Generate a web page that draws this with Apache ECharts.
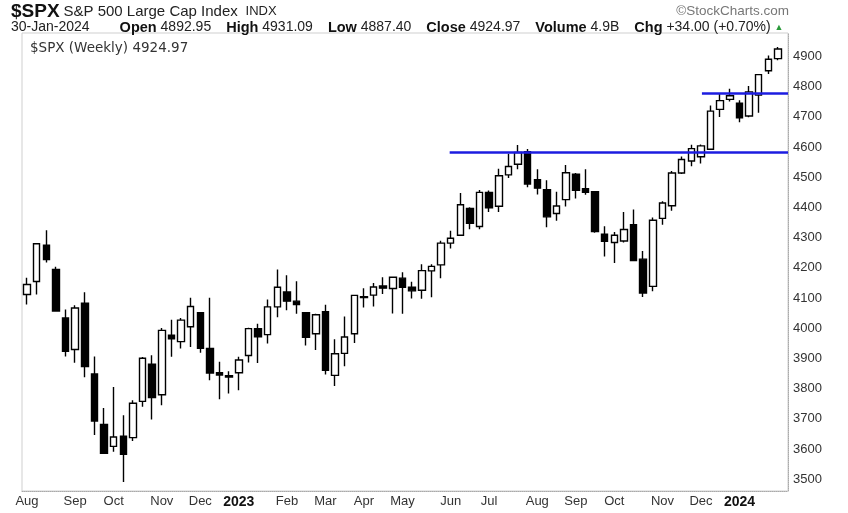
<!DOCTYPE html>
<html><head><meta charset="utf-8">
<script src="https://cdn.jsdelivr.net/npm/echarts@6/dist/echarts.min.js"></script>
<style>html,body{margin:0;padding:0;background:#fff}#c{width:848px;height:513px}</style>
</head><body><div id="c"></div>
<script>
// Weekly bars, $SPX, Aug 2022 - Jan 2024
const weeks = ['2022-08-01','2022-08-08','2022-08-15','2022-08-22','2022-08-29','2022-09-06','2022-09-12','2022-09-19','2022-09-26','2022-10-03','2022-10-10','2022-10-17','2022-10-24','2022-10-31','2022-11-07','2022-11-14','2022-11-21','2022-11-28','2022-12-05','2022-12-12','2022-12-19','2022-12-27','2023-01-03','2023-01-09','2023-01-17','2023-01-23','2023-01-30','2023-02-06','2023-02-13','2023-02-21','2023-02-27','2023-03-06','2023-03-13','2023-03-20','2023-03-27','2023-04-03','2023-04-10','2023-04-17','2023-04-24','2023-05-01','2023-05-08','2023-05-15','2023-05-22','2023-05-30','2023-06-05','2023-06-12','2023-06-20','2023-06-26','2023-07-03','2023-07-10','2023-07-17','2023-07-24','2023-07-31','2023-08-07','2023-08-14','2023-08-21','2023-08-28','2023-09-05','2023-09-11','2023-09-18','2023-09-25','2023-10-02','2023-10-09','2023-10-16','2023-10-23','2023-10-30','2023-11-06','2023-11-13','2023-11-20','2023-11-27','2023-12-04','2023-12-11','2023-12-18','2023-12-26','2024-01-02','2024-01-08','2024-01-16','2024-01-22','2024-01-29'];
const opens  = [4112,4155,4275,4195,4034,3930,4083,3849,3682,3609,3643,3638,3758,3881,3780,3977,3956,4005,4052,3933,3853,3843,3853,3910,3999,3979,4071,4120,4090,4052,3982,4055,3844,3917,3982,4102,4110,4140,4132,4166,4136,4126,4190,4210,4282,4308,4397,4337,4450,4404,4508,4543,4585,4492,4459,4380,4426,4510,4462,4452,4312,4284,4289,4343,4229,4139,4364,4406,4514,4554,4568,4593,4725,4758,4745,4703,4772,4853,4892.95];
const highs  = [4167,4280,4325,4204,4062,4076,4119,3907,3736,3806,3712,3762,3905,3911,4001,4028,4034,4101,4052,4101,3889,3858,3906,4002,4015,4095,4195,4176,4156,4052,4048,4078,3964,4039,4110,4133,4150,4169,4170,4186,4154,4212,4212,4290,4323,4448,4401,4458,4456,4528,4578,4607,4594,4527,4490,4452,4541,4514,4527,4453,4338,4319,4385,4393,4256,4367,4421,4521,4569,4608,4609,4738,4778,4793,4755,4802,4842,4903,4931.09];
const lows   = [4079,4112,4218,4057,3907,3886,3838,3647,3584,3591,3491,3627,3740,3698,3745,3906,3933,3938,3919,3828,3765,3784,3795,3887,3885,3950,4037,4060,4048,3943,3928,3847,3809,3874,3951,4069,4072,4114,4049,4048,4099,4098,4103,4166,4264,4307,4328,4328,4385,4385,4498,4527,4467,4443,4335,4356,4403,4430,4442,4316,4238,4216,4284,4223,4104,4123,4343,4389,4511,4537,4546,4593,4700,4751,4682,4699,4714,4842,4887.40];
const closes = [4145,4280,4228,4057,3924,4067,3873,3693,3586,3640,3583,3752,3901,3771,3993,3965,4027,4072,3934,3852,3845,3839,3895,3999,3972,4071,4136,4090,4079,3970,4045,3861,3916,3971,4109,4105,4137,4133,4169,4136,4124,4191,4205,4282,4298,4409,4348,4450,4399,4505,4536,4582,4478,4464,4369,4405,4515,4457,4450,4320,4288,4308,4327,4224,4117,4358,4415,4514,4559,4595,4604,4719,4754,4770,4697,4783,4840,4891,4924.97];

// Axis tick labels
const yTicks = [3500,3600,3700,3800,3900,4000,4100,4200,4300,4400,4500,4600,4700,4800,4900];
const monthTickWeeks  = ['2022-08-01','2022-09-06','2022-10-03','2022-11-07','2022-12-05','2023-01-03','2023-02-06','2023-03-06','2023-04-03','2023-05-01','2023-06-05','2023-07-03','2023-08-07','2023-09-05','2023-10-02','2023-11-06','2023-12-04','2024-01-02'];
const monthTickLabels = ['Aug','Sep','Oct','Nov','Dec','2023','Feb','Mar','Apr','May','Jun','Jul','Aug','Sep','Oct','Nov','Dec','2024'];

// Hand-drawn resistance lines (level, starting week position)
const resistanceLevels = [4583, 4777];
const resistanceFromWeek = [43.9, 70.1];

const X_MIN = -0.52, X_MAX = 79.04;
const FONT = '"Liberation Sans", Arial, sans-serif';

const tickIdx = monthTickWeeks.map(w => weeks.indexOf(w));
const labelByIdx = {};
tickIdx.forEach((ix, k) => { labelByIdx[ix] = monthTickLabels[k]; });

const chart = echarts.init(document.getElementById('c'), null, {renderer: 'canvas'});
const last = closes.length - 1;

chart.setOption({
  animation: false,
  backgroundColor: '#fff',
  title: [
    {
      text: '{a|$SPX} {b|S&P 500 Large Cap Index}  {c|INDX}',
      left: 11, top: 2, padding: 0,
      textStyle: { fontFamily: FONT, fontSize: 14, fontWeight: 'normal', rich: {
        a: {fontFamily: FONT, fontSize: 19, fontWeight: 'bold', color: '#111'},
        b: {fontFamily: FONT, fontSize: 15, fontWeight: 'normal', color: '#222'},
        c: {fontFamily: FONT, fontSize: 13, fontWeight: 'normal', color: '#222'}
      }}
    },
    {
      text: '©StockCharts.com', right: 59, top: 4, padding: 0,
      textStyle: {fontFamily: FONT, fontSize: 13.5, fontWeight: 'normal', color: '#777'}
    },
    {
      text: '{v|30-Jan-2024}{g|}{b|Open} {v|4892.95}{s|}{b|High} {v|4931.09}{s|}{b|Low} {v|4887.40}{s|}{b|Close} {v|4924.97}{s|}{b|Volume} {v|4.9B}{s|}{b|Chg} {v|+34.00 (+0.70%)} {t|▲}',
      left: 11, top: 20, padding: 0,
      textStyle: { fontFamily: FONT, fontSize: 14, fontWeight: 'normal', rich: {
        v: {fontFamily: FONT, fontSize: 14, fontWeight: 'normal', color: '#222'},
        b: {fontFamily: FONT, fontSize: 14.5, fontWeight: 'bold', color: '#111'},
        t: {fontFamily: FONT, fontSize: 9, fontWeight: 'normal', color: '#2a9a3a'},
        g: {width: 30},
        s: {width: 15}
      }}
    },
    {
      text: '$SPX (Weekly) ' + closes[last].toFixed(2),
      left: 30, top: 41, padding: 0,
      textStyle: {fontFamily: '"DejaVu Sans", sans-serif', fontSize: 13.5, fontWeight: 'normal', color: '#333'}
    }
  ],
  grid: {left: 22, top: 33, width: 766, height: 458, show: true, borderColor: '#cfcfcf', borderWidth: 1},
  xAxis: {
    type: 'value', min: X_MIN, max: X_MAX,
    splitLine: {show: false},
    axisTick: {show: false},
    axisLine: {show: true, onZero: false, lineStyle: {color: '#aaa', type: 'dotted'}},
    axisLabel: {
      customValues: tickIdx,
      margin: 4,
      fontFamily: FONT, fontSize: 13, color: '#333',
      formatter: v => {
        const s = labelByIdx[Math.round(v)] || '';
        return /^\d{4}$/.test(s) ? '{y|' + s + '}' : s;
      },
      rich: {y: {fontFamily: FONT, fontSize: 14, fontWeight: 'bold', color: '#111'}}
    }
  },
  yAxis: {
    type: 'value', position: 'right', min: 3461.3, max: 4977.8, scale: true,
    splitLine: {show: false},
    axisTick: {show: false},
    axisLine: {show: true, onZero: false, lineStyle: {color: '#aaa', type: 'dotted'}},
    axisLabel: {customValues: yTicks, margin: 5, fontFamily: FONT, fontSize: 13, color: '#333', formatter: v => String(v)}
  },
  series: [{
    type: 'candlestick',
    data: weeks.map((w, i) => [i, opens[i], closes[i], lows[i], highs[i]]),
    encode: {x: 0, y: [1, 2, 3, 4]},
    barWidth: 7,
    itemStyle: {color: '#fff', color0: '#000', borderColor: '#000', borderColor0: '#000', borderWidth: 1.4},
    markLine: {
      silent: true,
      symbol: ['none', 'none'],
      label: {show: false},
      lineStyle: {color: '#1c1ce0', width: 2.5, type: 'solid'},
      data: resistanceLevels.map((lv, k) => [{coord: [resistanceFromWeek[k], lv]}, {coord: [X_MAX, lv]}])
    }
  }]
});
</script>
</body></html>
